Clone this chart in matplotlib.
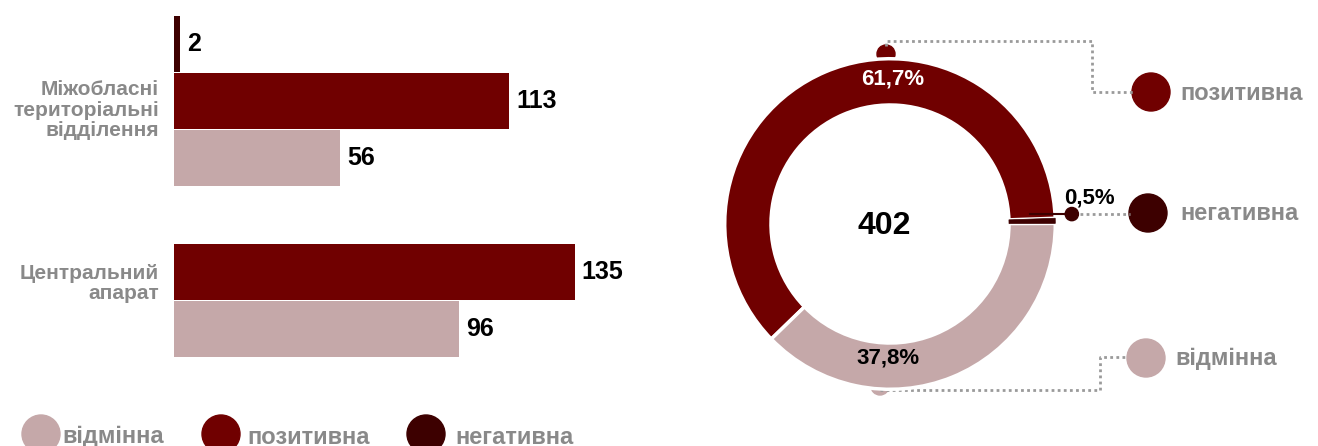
import numpy as np
import matplotlib.pyplot as plt
from matplotlib.patches import Circle

# --- data ---
categories = ["Міжобласні\nтериторіальні\nвідділення", "Центральний\nапарат"]
pozytyvna = [113, 135]
vidminna = [56, 96]
nehatyvna = [2, 0]
legend_names = ["відмінна", "позитивна", "негативна"]

c_vid = "#c5a8a9"
c_poz = "#700000"
c_neh = "#3d0000"
c_gray = "#898989"

plt.rcParams["font.family"] = ["Liberation Sans", "DejaVu Sans"]
plt.rcParams["font.weight"] = "bold"

W, H = 1318, 446
fig = plt.figure(figsize=(W / 100, H / 100), dpi=100)

# overlay in pixel coordinates (legends, leader lines)
ov = fig.add_axes([0, 0, 1, 1], zorder=0)
ov.set_xlim(0, W)
ov.set_ylim(H, 0)
ov.axis("off")

# --- bar chart ---
ax = fig.add_axes([174 / W, 46 / H, 445 / W, 400 / H], zorder=1)
ax.set_xlim(0, 150)
ax.set_ylim(5.246, -1.772)
ax.axis("off")
bh = 0.98
for i, cat in enumerate(categories):
    y0 = i * 3
    bars = []
    if nehatyvna[i] > 0:
        bars.append((y0 - 1, nehatyvna[i], c_neh))
    bars.append((y0, pozytyvna[i], c_poz))
    bars.append((y0 + 1, vidminna[i], c_vid))
    for y, v, col in bars:
        ax.barh(y, v, height=bh, color=col)
        ax.annotate(str(v), (v, y), xytext=(7, 0), textcoords="offset pixels",
                    ha="left", va="center", fontsize=18, color="black")
    ax.text(-15 / 2.97, y0 + 0.16 if i == 0 else y0 + 0.2, cat, ha="right", va="center",
            fontsize=15, color=c_gray, linespacing=1.1)

# bottom legend
for x, tx, name, col in zip([41, 221, 426], [62, 247, 455], legend_names, [c_vid, c_poz, c_neh]):
    ov.add_patch(Circle((x, 434), 19, color=col))
    ov.text(tx, 437, name, ha="left", va="center", fontsize=17, color=c_gray)

# --- donut ---
total = sum(pozytyvna) + sum(vidminna) + sum(nehatyvna)
vals = [sum(pozytyvna), sum(vidminna), sum(nehatyvna)]
cols = [c_poz, c_vid, c_neh]
pct = [v / total * 100 for v in vals]

cx, cy = 890, 224
ax2 = fig.add_axes([(cx - 200) / W, (H - cy - 200) / H, 400 / W, 400 / H], zorder=2)
wedges, _ = ax2.pie(vals, colors=cols, startangle=2, counterclock=True, radius=1,
                    wedgeprops=dict(width=0.28, edgecolor="white", linewidth=2.5))
wedges[2].set_edgecolor(c_neh)
wedges[2].set_linewidth(0.5)
ax2.set_xlim(-1.21, 1.21)
ax2.set_ylim(-1.21, 1.21)
ax2.axis("off")

def fmt(p):
    return f"{p:.1f}%".replace(".", ",")

ax2.text(0.018, 0.878, fmt(pct[0]), ha="center", va="center", fontsize=16, color="white")
ax2.text(-0.012, -0.811, fmt(pct[1]), ha="center", va="center", fontsize=16, color="black")
ax2.text(1.207, 0.16, fmt(pct[2]), ha="center", va="center", fontsize=16, color="black")
ax2.text(-0.037, -0.015, str(total), ha="center", va="center", fontsize=23, color="black")

# dots at the ring (behind the ring)
ov.add_patch(Circle((886, 54), 9, color=c_poz))
ov.add_patch(Circle((880, 386), 9, color=c_vid))
ax2.plot([0.85, 1.1], [0.06, 0.06], color=c_neh, lw=1.5, zorder=5)
ax2.add_patch(Circle((1.1, 0.06), 0.04, color=c_neh, zorder=5, clip_on=False))

# leader lines + right legend
lk = dict(color="#9a9a9a", lw=2, ls=(0, (1, 1.2)))
ov.plot([886, 886, 1092, 1092, 1133], [46, 41, 41, 92, 92], **lk)
ov.plot([1080, 1130], [214, 214], **lk)
ov.plot([880, 1100, 1100, 1128], [390, 390, 357, 357], **lk)
for (x, y), tx, name, col in zip([(1151, 92), (1148, 213), (1146, 358)], [1180, 1180, 1175],
                                 ["позитивна", "негативна", "відмінна"], [c_poz, c_neh, c_vid]):
    ov.add_patch(Circle((x, y), 19, color=col))
    ov.text(tx, y + 1, name, ha="left", va="center", fontsize=17, color=c_gray)

fig.savefig("out.png", dpi=100)
